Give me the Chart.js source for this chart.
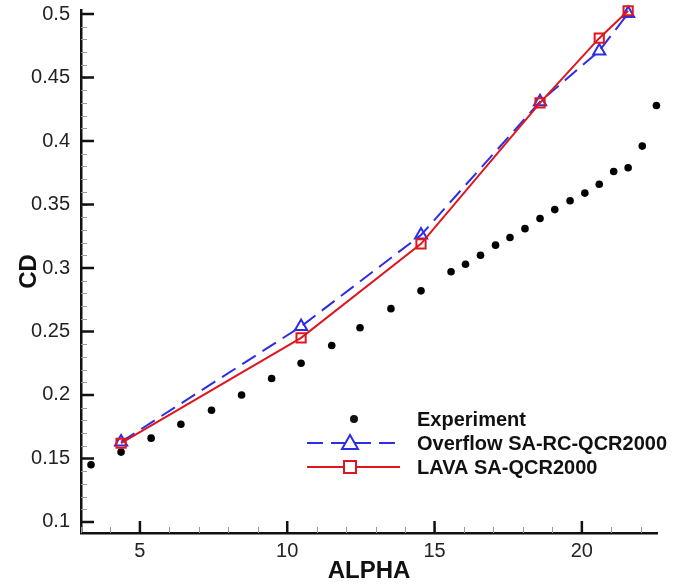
<!DOCTYPE html>
<html>
<head>
<meta charset="utf-8">
<script src="https://cdn.jsdelivr.net/npm/chart.js@4"></script>
<style>
    body { margin: 0; background: #fff; }
    #box { width: 688px; height: 586px; }
</style>
</head>
<body>
<div id="box"><canvas id="cdChart"></canvas></div>
<script>
// wind tunnel measurements
var expAlpha = [3.34, 4.36, 5.38, 6.39, 7.43, 8.45, 9.47, 10.47, 11.51, 12.47, 13.52, 14.54, 15.56, 16.05, 16.56, 17.07, 17.56, 18.07, 18.58, 19.08, 19.6, 20.1, 20.59, 21.08, 21.57, 22.05, 22.53];
var expCD = [0.145, 0.155, 0.166, 0.177, 0.188, 0.200, 0.213, 0.225, 0.239, 0.253, 0.268, 0.282, 0.297, 0.303, 0.310, 0.318, 0.324, 0.331, 0.339, 0.346, 0.353, 0.359, 0.366, 0.376, 0.379, 0.396, 0.428];

// CFD runs
var cfdAlpha = [4.36, 10.47, 14.54, 18.58, 20.59, 21.57];
var overflowCD = [0.163, 0.254, 0.326, 0.431, 0.471, 0.5005];
var lavaCD = [0.162, 0.245, 0.319, 0.430, 0.481, 0.5026];

var seriesNames = ['Experiment', 'Overflow SA-RC-QCR2000', 'LAVA SA-QCR2000'];

var blue = 'rgb(45, 45, 230)';
var red = 'rgb(222, 22, 30)';

function toPoints(xs, ys) {
    return xs.map(function (x, i) { return { x: x, y: ys[i] }; });
}

// inward tick marks + legend box drawn inside the plot
var frameTicks = {
    id: 'frameTicks',
    afterDraw: function (chart) {
        var ctx = chart.ctx;
        var xs = chart.scales.x;
        var ys = chart.scales.y;
        var area = chart.chartArea;
        ctx.save();

        // minor ticks
        ctx.strokeStyle = '#9a9a9a';
        ctx.lineWidth = 1;
        ctx.beginPath();
        for (var a = Math.ceil(xs.min); a <= xs.max; a += 1) {
            var px = Math.round(xs.getPixelForValue(a)) + 0.5;
            ctx.moveTo(px, area.bottom);
            ctx.lineTo(px, area.bottom - 6);
        }
        for (var k = Math.ceil(ys.min * 100); k <= ys.max * 100; k++) {
            var py = Math.round(ys.getPixelForValue(k / 100)) + 0.5;
            ctx.moveTo(area.left, py);
            ctx.lineTo(area.left + 6, py);
        }
        ctx.stroke();

        // major ticks
        ctx.strokeStyle = '#111';
        ctx.lineWidth = 2.5;
        ctx.beginPath();
        xs.ticks.forEach(function (t) {
            var px = xs.getPixelForValue(t.value);
            ctx.moveTo(px, area.bottom);
            ctx.lineTo(px, area.bottom - 12);
        });
        ys.ticks.forEach(function (t) {
            var py = ys.getPixelForValue(t.value);
            ctx.moveTo(area.left, py);
            ctx.lineTo(area.left + 13, py);
        });
        ctx.stroke();

        // legend
        var rows = [419, 443, 467];
        ctx.font = 'bold 20px "Liberation Sans", Arial, sans-serif';
        ctx.textBaseline = 'middle';
        ctx.fillStyle = '#111';

        ctx.beginPath();
        ctx.arc(354, rows[0], 4, 0, Math.PI * 2);
        ctx.fill();
        ctx.fillText(seriesNames[0], 417, rows[0] + 1);

        ctx.strokeStyle = blue;
        ctx.lineWidth = 2;
        ctx.setLineDash([16, 8]);
        ctx.beginPath();
        ctx.moveTo(307, rows[1]);
        ctx.lineTo(400, rows[1]);
        ctx.stroke();
        ctx.setLineDash([]);
        ctx.beginPath();
        ctx.moveTo(350, rows[1] - 8);
        ctx.lineTo(358, rows[1] + 6);
        ctx.lineTo(342, rows[1] + 6);
        ctx.closePath();
        ctx.fillStyle = '#fff';
        ctx.fill();
        ctx.stroke();
        ctx.fillStyle = '#111';
        ctx.fillText(seriesNames[1], 417, rows[1] + 1);

        ctx.strokeStyle = red;
        ctx.beginPath();
        ctx.moveTo(307, rows[2]);
        ctx.lineTo(400, rows[2]);
        ctx.stroke();
        ctx.fillStyle = '#fff';
        ctx.fillRect(344, rows[2] - 6, 12, 12);
        ctx.strokeRect(344, rows[2] - 6, 12, 12);
        ctx.fillStyle = '#111';
        ctx.fillText(seriesNames[2], 417, rows[2] + 1);

        ctx.restore();
    }
};

var tickFont = { family: '"Liberation Sans", Arial, sans-serif', size: 20 };
var titleFont = { family: '"Liberation Sans", Arial, sans-serif', size: 24, weight: 'bold' };

var ctxCD = document.getElementById('cdChart').getContext('2d');
var cdChart = new Chart(ctxCD, {
    type: 'scatter',
    data: {
        datasets: [{
            label: seriesNames[2],
            data: toPoints(cfdAlpha, lavaCD),
            showLine: true,
            borderColor: red,
            borderWidth: 2,
            pointStyle: 'rect',
            pointRadius: 6.5,
            pointBorderWidth: 2,
            pointBorderColor: red,
            pointBackgroundColor: 'rgba(255,255,255,0)',
            clip: false,
            order: 0
        },
        {
            label: seriesNames[1],
            data: toPoints(cfdAlpha, overflowCD),
            showLine: true,
            borderColor: blue,
            borderWidth: 2,
            borderDash: [16, 8],
            pointStyle: 'triangle',
            pointRadius: 7,
            pointBorderWidth: 2,
            pointBorderColor: blue,
            pointBackgroundColor: 'rgba(255,255,255,0)',
            clip: false,
            order: 1
        },
        {
            label: seriesNames[0],
            data: toPoints(expAlpha, expCD),
            showLine: false,
            pointStyle: 'circle',
            pointRadius: 3.8,
            pointBorderWidth: 0,
            pointBackgroundColor: '#000',
            clip: false,
            order: 2
        }]
    },
    options: {
        responsive: true,
        maintainAspectRatio: false,
        animation: false,
        layout: { padding: { top: 10, right: 31, left: 0, bottom: 0 } },
        plugins: {
            legend: { display: false },
            tooltip: { enabled: false }
        },
        scales: {
            x: {
                type: 'linear',
                min: 3,
                max: 22.55,
                grid: { drawOnChartArea: false, drawTicks: false },
                border: { display: true, color: '#111', width: 2.5 },
                ticks: {
                    stepSize: 5,
                    includeBounds: false,
                    padding: 6,
                    color: '#222',
                    font: tickFont,
                    maxRotation: 0
                },
                title: { display: true, text: 'ALPHA', color: '#111', font: titleFont, padding: { top: 0, bottom: 0 } },
                afterFit: function (scale) {
                    scale.height = 53;
                    scale.paddingLeft = 0;
                    scale.paddingRight = 0;
                }
            },
            y: {
                type: 'linear',
                min: 0.0913,
                max: 0.5032,
                grid: { drawOnChartArea: false, drawTicks: false },
                border: { display: true, color: '#111', width: 2.5 },
                ticks: {
                    stepSize: 0.05,
                    includeBounds: false,
                    padding: 11,
                    color: '#222',
                    font: tickFont,
                    callback: function (v) { return String(+v.toFixed(2)); }
                },
                title: { display: true, text: 'CD', color: '#111', font: titleFont, padding: { top: 15, bottom: 0 } },
                afterFit: function (scale) {
                    scale.width = 81;
                    scale.paddingTop = 0;
                    scale.paddingBottom = 0;
                }
            }
        }
    },
    plugins: [frameTicks]
});
</script>
</body>
</html>
